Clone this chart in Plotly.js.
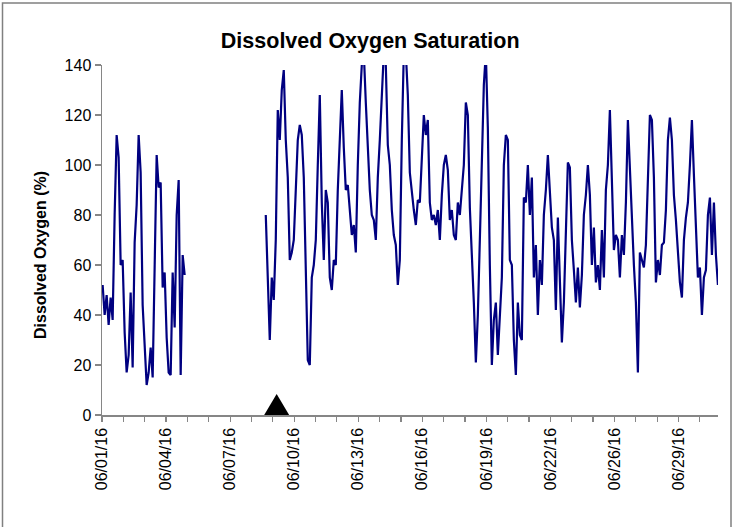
<!DOCTYPE html>
<html><head><meta charset="utf-8">
<script src="https://cdn.plot.ly/plotly-3.0.1.min.js"></script>
<style>html,body{margin:0;padding:0;background:#fff}#chart{width:736px;height:527px}</style>
</head><body><div id="chart"></div>
<script>
// Tick labels (one labelled tick every third day-tick)
const dateLabels = ['06/01/16','06/04/16','06/07/16','06/10/16','06/13/16','06/16/16','06/19/16','06/22/16','06/26/16','06/29/16'];
const nDayTicks = 29;

// Logger record: time in days from axis start, readings every ~2.25 h
const stepDays = 0.0937;
const seg1Start = 0.03;
const seg1DO = [52,40,48,36,47,38,80,112,103,60,62,33,17,24,49,19,69,84,112,97,44,27,12,17,27,15,64,104,91,93,51,57,31,17,16,57,35,80,94,16,64,56];
const seg2Start = 7.67;
const seg2DO = [
 80,57,30,55,46,70,122,110,130,138,110,95,62,65,70,90,
 110,116,112,95,62,22,20,55,60,70,100,128,85,62,90,85,
 55,50,62,60,90,112,130,107,90,92,80,72,76,65,100,125,
 140,145,125,108,90,80,78,70,95,110,132,145,140,108,100,82,
 72,68,52,62,110,145,145,128,97,88,82,76,86,85,100,120,
 112,118,85,78,80,76,82,70,88,100,104,98,78,82,72,70,
 85,80,90,100,125,120,83,66,45,21,40,70,104,132,145,115,
 60,20,38,45,24,42,55,100,112,110,62,60,30,16,45,32,
 30,87,85,100,80,95,55,68,40,62,52,80,90,104,87,75,
 70,42,79,50,29,45,77,101,99,70,58,45,59,43,56,80,
 88,100,88,60,75,53,60,50,74,55,90,100,122,90,66,72,
 70,55,72,64,85,118,96,80,60,45,17,65,62,59,68,90,
 120,118,95,53,62,56,68,69,82,110,119,110,88,78,64,53,
 47,70,79,85,100,118,96,75,55,59,40,55,58,80,87,64,
 85,64,52];
// Event marker (triangle on the axis)
const eventDay = 8.18;

const xs = [], ys = [];
seg1DO.forEach((v,i)=>{xs.push(seg1Start+i*stepDays); ys.push(v);});
xs.push(null); ys.push(null);
seg2DO.forEach((v,i)=>{xs.push(seg2Start+i*stepDays); ys.push(v);});

const tickvals = [], ticktext = [];
for (let k=0;k<nDayTicks;k++){ tickvals.push(k); ticktext.push(k%3===0 ? dateLabels[k/3] : ''); }

const FONT = 'Liberation Sans, Arial, sans-serif';
const axisGray = '#868686';

const data = [{
  x: xs, y: ys, type:'scatter', mode:'lines',
  line:{color:'#000080', width:2.2}, connectgaps:false, hoverinfo:'skip'
}];

const L=102, R=18, T=65, B=112, W=736, H=527;
const pw = W-L-R, ph = H-T-B;

const layout = {
  width:W, height:H,
  margin:{l:L, r:R, t:T, b:B, pad:0},
  paper_bgcolor:'#fff', plot_bgcolor:'#fff',
  font:{family:FONT, color:'#000', size:16},
  showlegend:false,
  title:{text:'<b>Dissolved Oxygen Saturation</b>', font:{family:FONT, size:21.5, color:'#000'},
         xref:'container', x:0.503, xanchor:'center', yref:'container', y:(H-40)/H, yanchor:'middle'},
  xaxis:{range:[0,28.85], tickmode:'array', tickvals:tickvals, ticktext:ticktext, tickangle:-90,
         ticks:'outside', ticklen:5, tickcolor:axisGray, tickwidth:1.2,
         showline:true, linecolor:axisGray, linewidth:1.5, showgrid:false, zeroline:false,
         tickfont:{family:FONT, size:16, color:'#000'}, fixedrange:true},
  yaxis:{range:[0,140], tickmode:'linear', tick0:0, dtick:20,
         ticks:'outside', ticklen:6, tickcolor:axisGray, tickwidth:1.2,
         showline:true, linecolor:axisGray, linewidth:1.5, showgrid:false, zeroline:false,
         tickfont:{family:FONT, size:16, color:'#000'},
         fixedrange:true},
  annotations:[
    {text:'<b>Dissolved Oxygen (%)</b>', xref:'paper', yref:'paper',
     x:(40-L)/pw, y:(H-B-255)/ph, xanchor:'center', yanchor:'middle', textangle:-90,
     showarrow:false, font:{family:FONT, size:16, color:'#000'}}
  ],
  shapes:[
    {type:'rect', xref:'paper', yref:'paper', layer:'below',
     x0:(2.5-L)/pw, x1:(731-L)/pw, y0:(H-T-600)/ph, y1:(H-B-3)/ph,
     line:{color:'#808080', width:1.5}, fillcolor:'rgba(0,0,0,0)'},
    {type:'path', xref:'x', yref:'y', xsizemode:'pixel', ysizemode:'pixel',
     xanchor:eventDay, yanchor:0, path:'M-12.5,0 L12.5,0 L0,21 Z',
     fillcolor:'#000', line:{color:'#000', width:0}, layer:'above'}
  ]
};
Plotly.newPlot('chart', data, layout, {staticPlot:true, displayModeBar:false});
</script></body></html>
